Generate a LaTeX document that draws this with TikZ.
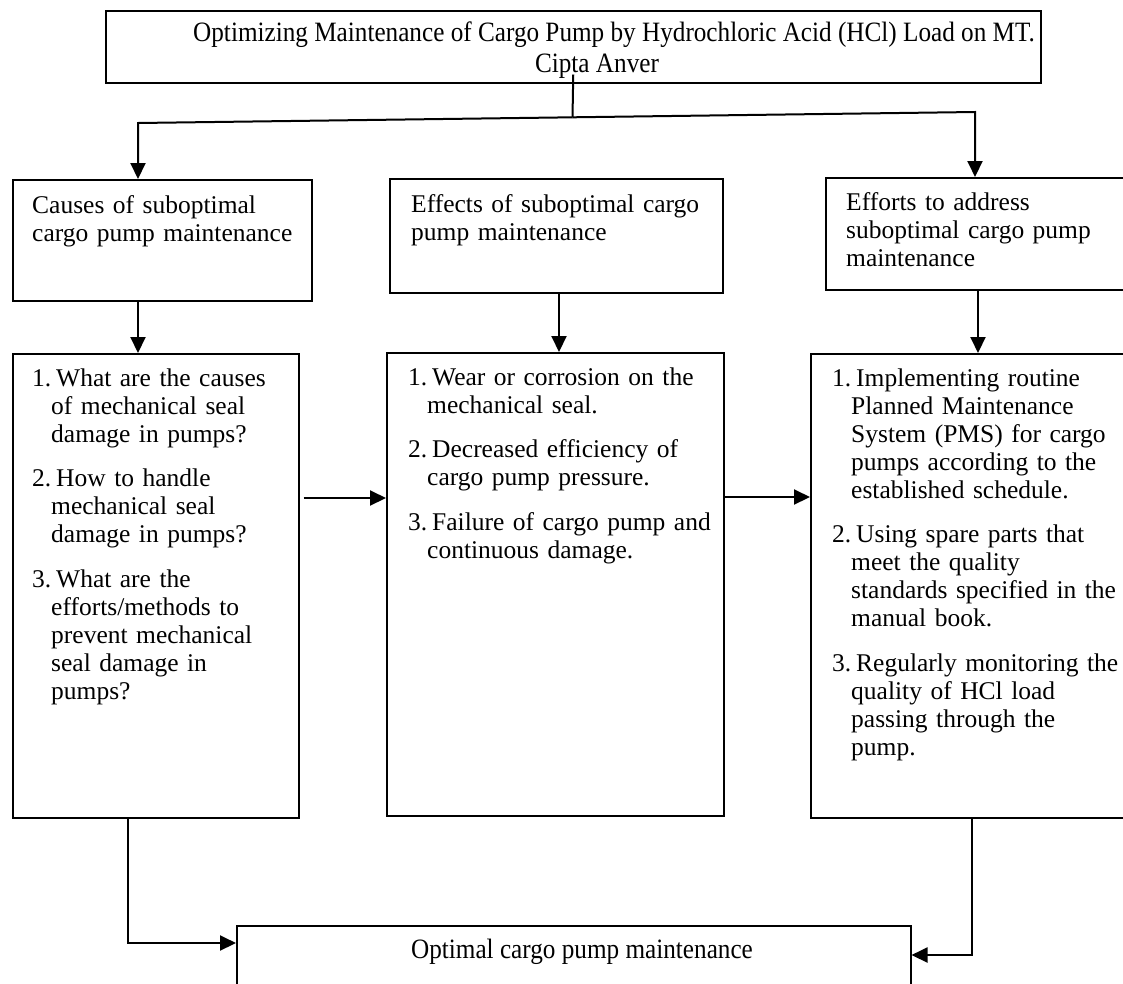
\documentclass[tikz,border=0pt]{standalone}
\usepackage{fontspec}
\setmainfont{Liberation Serif}[WordSpace=0.8]
\newfontfamily\condfont{Liberation Serif}[FakeStretch=0.9]
\usetikzlibrary{arrows.meta}
\newcommand\litem[2]{\noindent\hangindent=19pt\hangafter=1\makebox[24pt][l]{#1}#2\par}
\begin{document}
\begin{tikzpicture}[x=1pt,y=-1pt,
  box/.style={draw=black, line width=1.5pt, rectangle, inner sep=0pt, anchor=north west},
  conn/.style={line width=2pt},
  arr/.style={line width=2pt, -{Triangle[length=16pt,width=15pt]}},
  lst/.style={font=\fontsize{25.5}{28}\selectfont, text width=330pt, align=left, anchor=base west, inner sep=0pt},
  ttl/.style={font=\condfont\fontsize{28}{31}\selectfont, inner sep=0pt},
]
\useasboundingbox (0,0) rectangle (1123,983);
% boxes
\node[box, minimum width=935pt, minimum height=72pt] (title) at (105,10) {};
\node[box, minimum width=299pt, minimum height=121pt] (A) at (12,179) {};
\node[box, minimum width=333pt, minimum height=114pt] (B) at (389,178) {};
\node[box, minimum width=320pt, minimum height=112pt] (C) at (825,177) {};
\node[box, minimum width=286pt, minimum height=464pt] (A2) at (12,353) {};
\node[box, minimum width=337pt, minimum height=463pt] (B2) at (386,352) {};
\node[box, minimum width=320pt, minimum height=464pt] (C2) at (810,353) {};
\node[box, minimum width=674pt, minimum height=100pt] (D) at (236,925) {};
% texts
\node[ttl, anchor=base west] (t1) at (193,41) {Optimizing Maintenance of Cargo Pump by Hydrochloric Acid (HCl) Load on MT.};
\node[ttl, anchor=base] (t2) at (597,72) {Cipta Anver};
\node[ttl, anchor=base] (dt) at (582,958) {Optimal cargo pump maintenance};
\node[lst] (At) at (32,213) {Causes of suboptimal\newline cargo pump maintenance};
\node[lst] (Bt) at (411,212) {Effects of suboptimal cargo\newline pump maintenance};
\node[lst] (Ct) at (846,210) {Efforts to address\newline suboptimal cargo pump\newline maintenance};
\node[lst] (A2t) at (32,386) {%
\litem{1.}{What are the causes\newline of mechanical seal\newline damage in pumps?}\vspace{16.5pt}%
\litem{2.}{How to handle\newline mechanical seal\newline damage in pumps?}\vspace{16.5pt}%
\litem{3.}{What are the\newline efforts/methods to\newline prevent mechanical\newline seal damage in\newline pumps?}};
\node[lst] (B2t) at (408,385) {%
\litem{1.}{Wear or corrosion on the\newline mechanical seal.}\vspace{16.5pt}%
\litem{2.}{Decreased efficiency of\newline cargo pump pressure.}\vspace{16.5pt}%
\litem{3.}{Failure of cargo pump and\newline continuous damage.}};
\node[lst] (C2t) at (832,386) {%
\litem{1.}{Implementing routine\newline Planned Maintenance\newline System (PMS) for cargo\newline pumps according to the\newline established schedule.}\vspace{16.5pt}%
\litem{2.}{Using spare parts that\newline meet the quality\newline standards specified in the\newline manual book.}\vspace{16.5pt}%
\litem{3.}{Regularly monitoring the\newline quality of HCl load\newline passing through the\newline pump.}};
% helper coordinates
\coordinate (jl) at (138,123);
\coordinate (jr) at (975,112);
\coordinate (jm) at (572.5,117.3);
\coordinate (xb) at (559,0);
\coordinate (xc) at (978,0);
\coordinate (yab) at (0,498);
\coordinate (ybc) at (0,497);
\coordinate (xl) at (128,0);
\coordinate (yl) at (0,943);
\coordinate (xr) at (972,0);
\coordinate (yr) at (0,955);
% connectors
\draw[conn] ([yshift=9pt]title.south) -- (jm);
\draw[arr] (jm) -- (jl) -- (jl |- A.north);
\draw[arr] (jm) -- (jr) -- (jr |- C.north);
\draw[arr] (jl |- A.south) -- (jl |- A2.north);
\draw[arr] (xb |- B.south) -- (xb |- B2.north);
\draw[arr] (xc |- C.south) -- (xc |- C2.north);
\draw[arr] ([xshift=4pt]A2.east |- yab) -- (B2.west |- yab);
\draw[arr] (B2.east |- ybc) -- (C2.west |- ybc);
\draw[arr] (xl |- A2.south) -- (xl |- yl) -- (D.west |- yl);
\draw[arr] (xr |- C2.south) -- (xr |- yr) -- (D.east |- yr);
\end{tikzpicture}
\end{document}
